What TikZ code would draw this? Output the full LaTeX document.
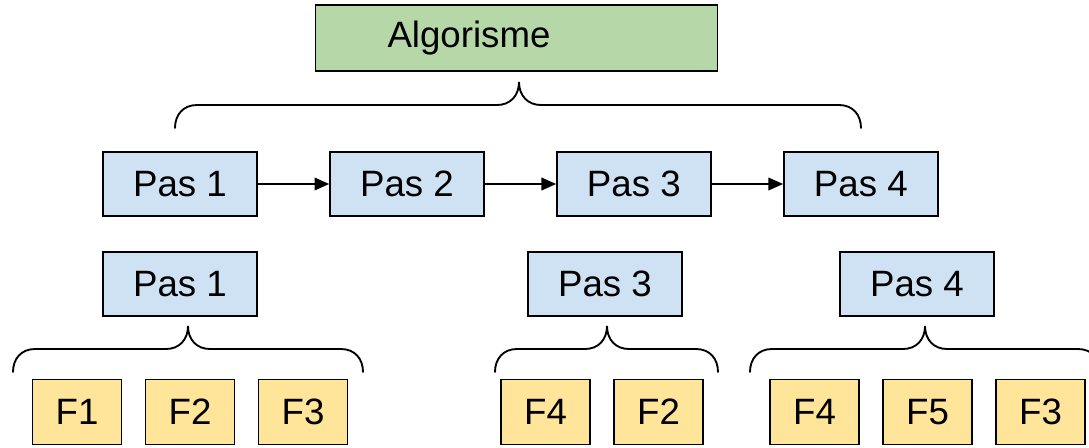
\documentclass[tikz,border=0pt]{standalone}
\usepackage{fontspec}
\setmainfont{Liberation Sans}
\usetikzlibrary{arrows.meta,positioning}

% curly brace: left x, tip x, right x, y of the two feet
\newcommand\accolade[4]{%
  \draw[brace] (#1,#4) .. controls (#1,#4-13) and (#1+8,#4-23) .. (#1+22,#4-23)
    -- (#2-22,#4-23) .. controls (#2-9,#4-23) and (#2,#4-32) .. (#2,#4-46)
    .. controls (#2,#4-32) and (#2+9,#4-23) .. (#2+22,#4-23)
    -- (#3-22,#4-23) .. controls (#3-8,#4-23) and (#3,#4-13) .. (#3,#4);}

\begin{document}
\begin{tikzpicture}[x=0.75pt,y=-0.75pt,node distance=53.6pt,
 every node/.style={font=\fontsize{27.5}{32}\selectfont},
 box/.style={draw,line width=1.1pt,inner sep=0pt},
 algbox/.style={box,fill=algfill,text width=193.5pt,inner xsep=54pt,minimum height=49.5pt,align=left},
 pasbox/.style={box,fill=pasfill,minimum width=115.5pt,minimum height=48pt},
 fbox/.style={box,fill=ffill,minimum width=66.75pt,minimum height=48.75pt},
 arr/.style={-{Triangle[length=11pt,width=9.5pt]},line width=1.1pt},
 brace/.style={line width=1.4pt,line cap=round}]
\definecolor{algfill}{HTML}{B6D7A8}
\definecolor{pasfill}{HTML}{CFE2F3}
\definecolor{ffill}{HTML}{FFE599}
\useasboundingbox (0,0) rectangle (1089,447);

\node[algbox] (alg) at (516.5,38) {Algorisme};
\accolade{175}{519}{861}{128}

% the four steps in a row
\node[pasbox] (p1) at (180,184) {Pas 1};
\node[pasbox,right=of p1] (p2) {Pas 2};
\node[pasbox,right=of p2] (p3) {Pas 3};
\node[pasbox,right=of p3] (p4) {Pas 4};
\draw[arr] (p1)--(p2); \draw[arr] (p2)--(p3); \draw[arr] (p3)--(p4);

% steps split into functions
\node[pasbox] (q1) at (180,284) {Pas 1};
\node[pasbox] (q3) at (605,284) {Pas 3};
\node[pasbox] (q4) at (917,284) {Pas 4};
\accolade{13}{188}{363}{372}
\accolade{495}{607}{718}{372}
\accolade{750}{925}{1100}{372}

\node[fbox] (f1) at (77,412) {F1};
\node[fbox,right=16.9pt of f1] (f2) {F2};
\node[fbox,right=16.9pt of f2] (f3) {F3};
\node[fbox] (g4) at (545.5,412) {F4};
\node[fbox,right=16.9pt of g4] (g2) {F2};
\node[fbox] (h4) at (814.5,412) {F4};
\node[fbox,right=16.9pt of h4] (h5) {F5};
\node[fbox,right=16.9pt of h5] (h3) {F3};
\end{tikzpicture}
\end{document}
